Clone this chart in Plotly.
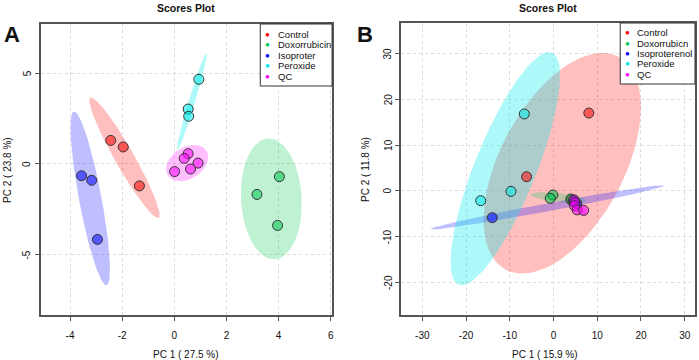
import numpy as np
import plotly.graph_objects as go

W, H = 699, 360

# ---------------- data ----------------
groups = ["Control", "Doxorubicin", "Isoproterenol", "Peroxide", "QC"]
legend_a = ["Control", "Doxorrubicin", "Isoproter", "Peroxide", "QC"]
legend_b = ["Control", "Doxorrubicn", "Isoproterenol", "Peroxide", "QC"]

# Panel A scores (PC1, PC2)
a_control_x = [-2.44, -1.96, -1.34]
a_control_y = [1.30, 0.94, -1.21]
a_doxo_x = [4.03, 3.17, 3.96]
a_doxo_y = [-0.70, -1.68, -3.39]
a_iso_x = [-3.56, -3.17, -2.95]
a_iso_y = [-0.65, -0.90, -4.16]
a_perox_x = [0.94, 0.53, 0.55]
a_perox_y = [4.67, 3.03, 2.63]
a_qc_x = [0.53, 0.38, 0.91, 0.62, 0.01]
a_qc_y = [0.57, 0.31, 0.05, -0.28, -0.42]

# Panel B scores (PC1, PC2)
b_control_x = [8.07, -6.16, 4.10]
b_control_y = [17.0, 3.06, -2.06]
b_doxo_x = [-0.14, -0.75, 3.97]
b_doxo_y = [-0.94, -1.67, -1.81]
b_iso_x = [-13.99, 4.60, 5.30]
b_iso_y = [-5.90, -2.20, -2.80]
b_perox_x = [-16.65, -9.72, -6.68]
b_perox_y = [-2.18, -0.15, 16.8]
b_qc_x = [4.70, 4.90, 4.80, 5.40, 6.90]
b_qc_y = [-2.00, -2.60, -3.30, -4.20, -4.30]

a_xticks = [-4, -2, 0, 2, 4, 6]
a_yticks = [-5, 0, 5]
b_xticks = [-30, -20, -10, 0, 10, 20, 30]
b_yticks = [-20, -10, 0, 10, 20, 30]

# ---------------- style ----------------
rgb = [(255, 0, 0), (0, 200, 80), (0, 0, 255), (0, 235, 235), (255, 0, 255)]
ell_alpha = [0.25, 0.25, 0.25, 0.32, 0.25]
FONT = "Liberation Sans, Arial, sans-serif"


def rgba(c, a):
    return f"rgba({c[0]},{c[1]},{c[2]},{a})"


def ellipse(xs, ys, level=0.95, n=100):
    pts = np.column_stack([xs, ys])
    c = pts.mean(axis=0)
    cov = np.cov(pts, rowvar=False)
    t = np.sqrt(-2 * np.log(1 - level))
    vals, vecs = np.linalg.eigh(cov)
    vals = np.clip(vals, 0, None)
    ang = np.linspace(0, 2 * np.pi, n)
    circ = np.vstack([np.cos(ang), np.sin(ang)])
    e = vecs @ (np.sqrt(vals)[:, None] * circ) * t
    return c[0] + e[0], c[1] + e[1]


fig = go.Figure()

panels = [
    ("x", "y", [(a_control_x, a_control_y), (a_doxo_x, a_doxo_y), (a_iso_x, a_iso_y),
                (a_perox_x, a_perox_y), (a_qc_x, a_qc_y)]),
    ("x2", "y2", [(b_control_x, b_control_y), (b_doxo_x, b_doxo_y), (b_iso_x, b_iso_y),
                  (b_perox_x, b_perox_y), (b_qc_x, b_qc_y)]),
]

for xa, ya, data in panels:
    for g, (xs, ys) in enumerate(data):
        ex, ey = ellipse(xs, ys)
        fig.add_trace(go.Scatter(x=ex, y=ey, mode="lines", fill="toself",
                                 fillcolor=rgba(rgb[g], ell_alpha[g]), line=dict(width=0),
                                 hoverinfo="skip", showlegend=False, xaxis=xa, yaxis=ya))
    for g, (xs, ys) in enumerate(data):
        fig.add_trace(go.Scatter(x=xs, y=ys, mode="markers", name=groups[g],
                                 marker=dict(size=10, color=rgba(rgb[g], 0.55),
                                             line=dict(width=1, color="#333333")),
                                 showlegend=False, xaxis=xa, yaxis=ya))


def px(x):
    return x / W


def py(y):
    return 1 - y / H


axis_common = dict(showline=True, mirror=True, linecolor="#555555", linewidth=1.5,
                   ticks="outside", ticklen=4, tickcolor="#555555", tickwidth=1,
                   showgrid=True, gridcolor="#dcdcdc", griddash="dot", gridwidth=1,
                   zeroline=False, tickfont=dict(family=FONT, size=10, color="#111111"))

fig.update_layout(
    width=W, height=H, margin=dict(l=0, r=0, t=0, b=0),
    paper_bgcolor="white", plot_bgcolor="white", showlegend=False,
    xaxis=dict(domain=[px(41), px(333)], range=[-5.12, 6.05], anchor="y",
               tickvals=a_xticks, ticktext=[str(v) for v in a_xticks],
               ticklabelstandoff=6, **axis_common),
    yaxis=dict(domain=[py(315), py(24)], range=[-8.33, 7.72], anchor="x",
               tickvals=a_yticks, showticklabels=False, **axis_common),
    xaxis2=dict(domain=[px(402), px(697)], range=[-34.9, 32.35], anchor="y2",
                tickvals=b_xticks, ticktext=[str(v) for v in b_xticks],
                ticklabelstandoff=6, **axis_common),
    yaxis2=dict(domain=[py(315), py(23)], range=[-27.2, 36.7], anchor="x2",
                tickvals=b_yticks, showticklabels=False, **axis_common),
)

ann = []
shapes = []


def text(x, y, s, size=10, bold=False, angle=0, xanchor="center", color="#111111"):
    ann.append(dict(x=px(x), y=py(y), xref="paper", yref="paper", text=f"<b>{s}</b>" if bold else s,
                    showarrow=False, textangle=angle, xanchor=xanchor, yanchor="middle",
                    font=dict(family=FONT, size=size, color=color)))


# rotated y tick labels (R style), placed at the axis' own tick values
for xpix, yref, ticks in [(27, "y", a_yticks), (389, "y2", b_yticks)]:
    for v in ticks:
        ann.append(dict(x=px(xpix), y=v, xref="paper", yref=yref, text=str(v),
                        showarrow=False, textangle=-90, xanchor="center", yanchor="middle",
                        font=dict(family=FONT, size=10, color="#111111")))

# titles and panel letters
text(187, 8, "Scores Plot", size=10.5, bold=True)
text(549.5, 8, "Scores Plot", size=10.5, bold=True)
text(12, 34, "A", size=22, bold=True)
text(366, 34, "B", size=22, bold=True)
# axis titles
text(187, 354, "PC 1 ( 27.5 %)", size=10)
text(547, 354, "PC 1 ( 15.9 %)", size=10)
text(7, 170, "PC 2 ( 23.8 %)", size=10, angle=-90)
text(366, 169, "PC 2 ( 11.8 %)", size=10, angle=-90)

# legends
legends = [
    (legend_a, 261, 333, 24, 86, 268, 277, [34, 44.3, 55, 65.3, 76.3]),
    (legend_b, 622, 697, 23, 84, 629.5, 637, [32.3, 43, 53.3, 63.7, 74.3]),
]
for labels, x0, x1, y0, y1, dx, tx, rows in legends:
    shapes.append(dict(type="rect", xref="paper", yref="paper", x0=px(x0), x1=px(x1),
                       y0=py(y1), y1=py(y0), line=dict(color="#333333", width=1),
                       fillcolor="white", layer="above"))
    for g, lab in enumerate(labels):
        text(dx, rows[g], "●", size=8, color=rgba(rgb[g], 1))
        text(tx, rows[g], lab, size=9.5, xanchor="left")

fig.update_layout(annotations=ann, shapes=shapes)
fig.write_html("out.html", config={"displayModeBar": False},
               post_script="document.body.style.margin='0';document.body.style.overflow='hidden';")
